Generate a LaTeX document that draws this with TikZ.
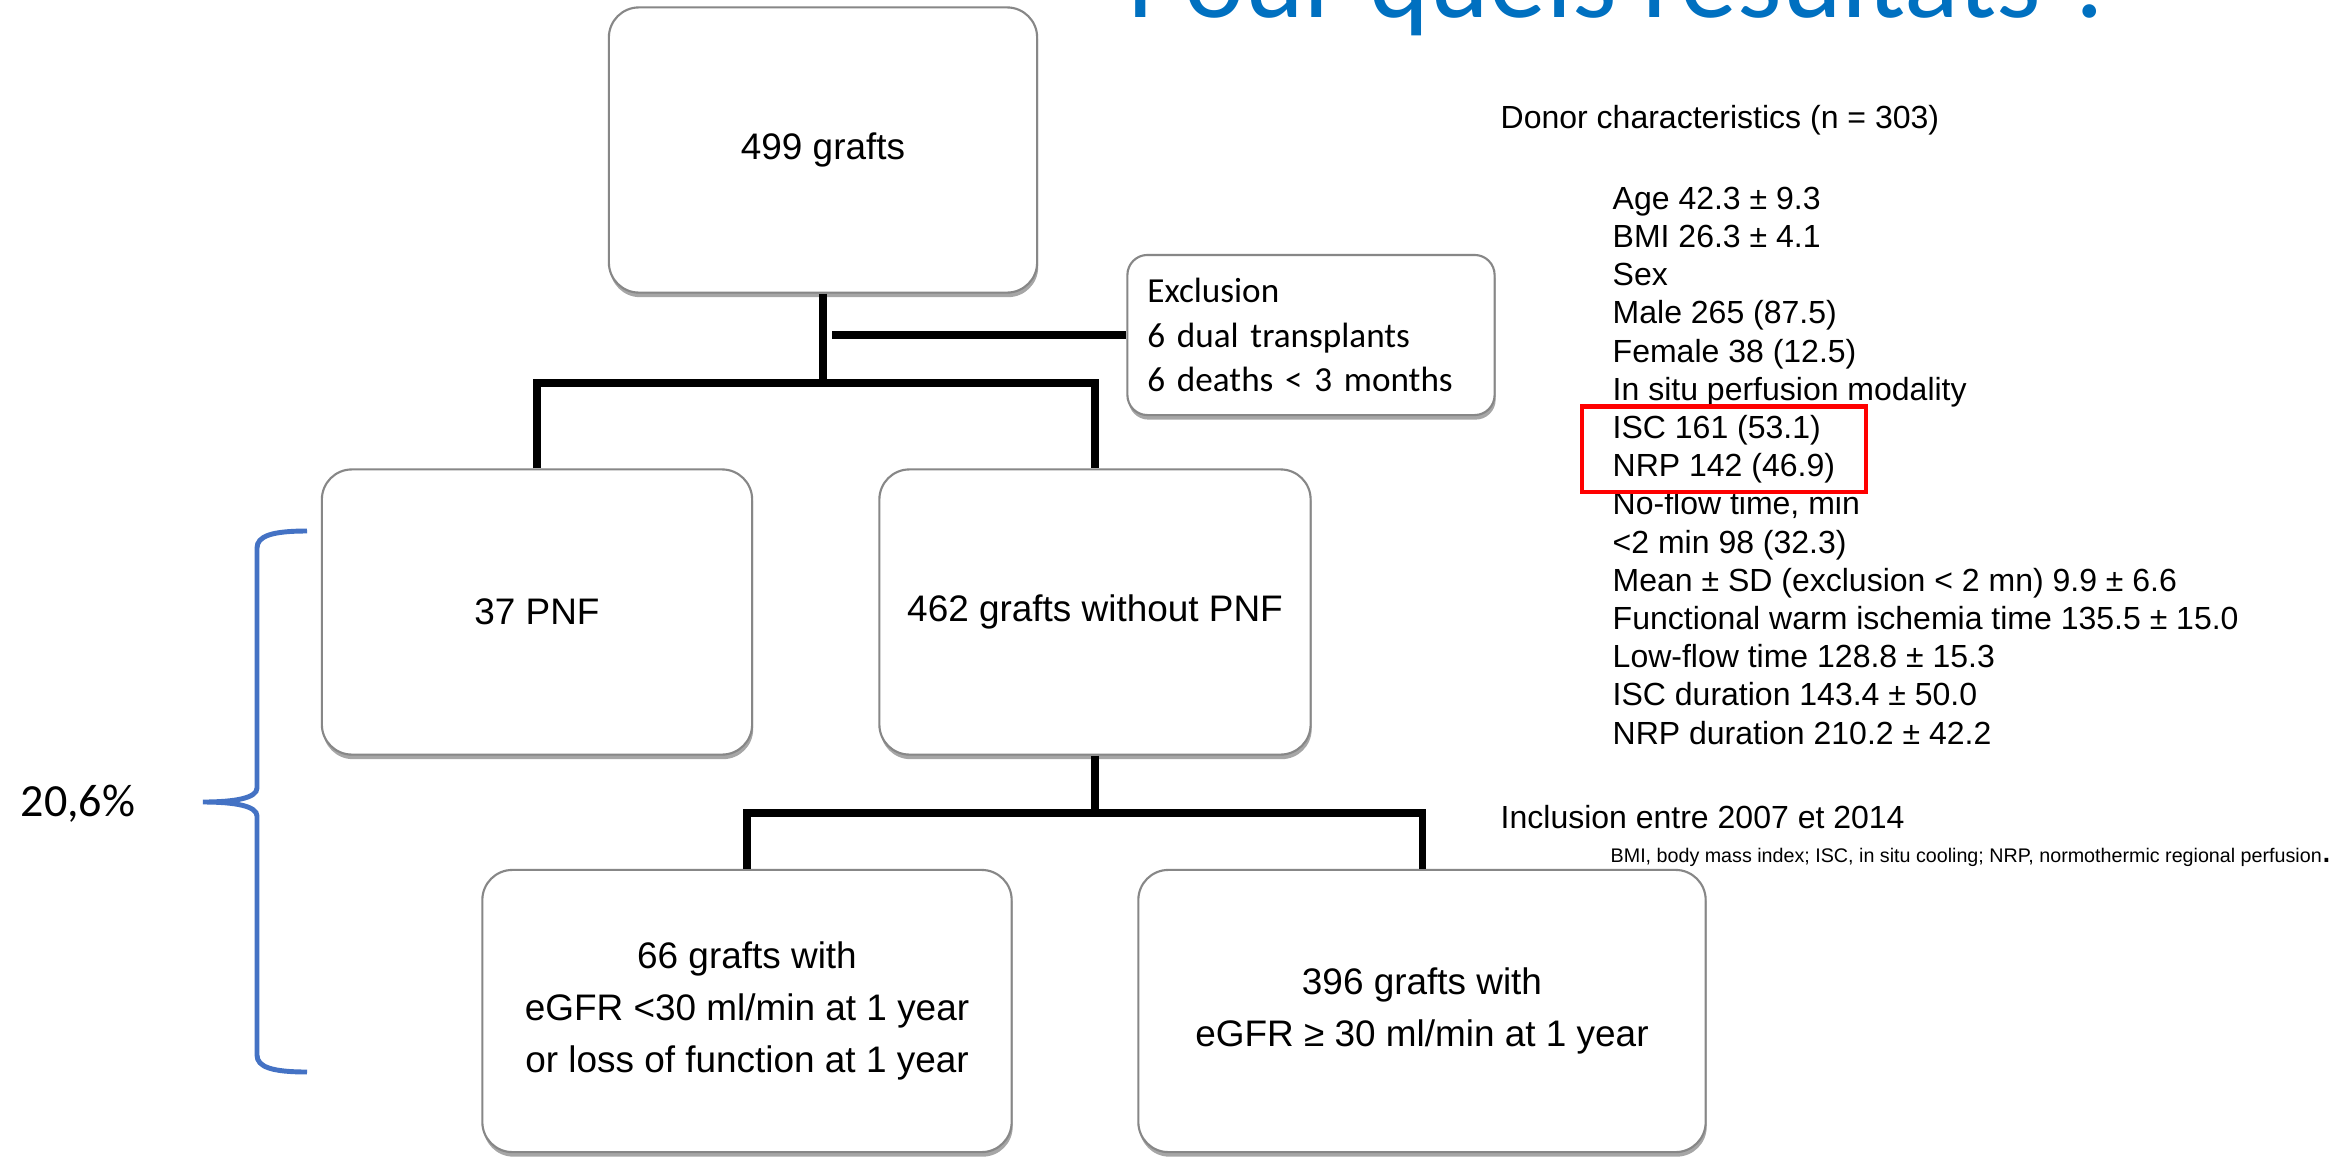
\documentclass[tikz,border=0pt]{standalone}
\usepackage{fontspec}
\setmainfont{Liberation Sans}
\newfontfamily\calibri{Carlito}
\usetikzlibrary{positioning, shadows, fit}

\definecolor{titleblue}{RGB}{0,112,192}
\definecolor{braceblue}{RGB}{68,114,196}
\definecolor{boxgray}{RGB}{135,135,135}

\begin{document}
\begin{tikzpicture}[
            x = 0.01cm, y = -0.01cm, % one unit = one pixel of the slide
            font = \fontsize{10.5}{12.5}\selectfont, % box text
            line cap = butt
        ]

        \tikzstyle{flowbox}=[
            draw = boxgray,
            line width = 0.6pt,
            fill = white,
            rounded corners = 0.3cm,
            align = center,
            minimum height = 2.85cm,
            drop shadow = {shadow xshift=0.3pt, shadow yshift=-1.3pt, fill=black, opacity=0.35}
        ]
        \tikzstyle{link}=[line width = 2pt]
        \tikzstyle{listline}=[
            anchor = base west,
            inner sep = 0pt,
            font = \fontsize{9.1}{11}\selectfont
        ]

        \useasboundingbox[fill=white] (0,0) rectangle (2351,1157);

        % slide title, cut by the top edge
        \node[anchor=base west, inner sep=0pt, text=titleblue,
              font=\calibri\fontsize{32.4}{38}\selectfont] (title) at (1127,17) {Pour quels résultats ?};

        % flow chart
        \node[flowbox, minimum width=4.28cm] (grafts) at (823,150) {499 grafts};
        \node[flowbox, minimum height=1.6cm, rounded corners=0.2cm, align=left,
              text width=3.27cm, inner xsep=0.2cm,
              font=\calibri\fontsize{10}{12.7}\selectfont] (excl) at (1311,335)
              {Exclusion\\6 dual transplants\\6 deaths < 3 months};
        \node[flowbox, minimum width=4.3cm] (pnf) at (537,612) {37 PNF};
        \node[flowbox, minimum width=4.31cm] (nopnf) at (1095,612) {462 grafts without PNF};
        \node[flowbox, minimum width=5.29cm, minimum height=2.82cm,
              font=\fontsize{10.5}{14.8}\selectfont] (low) at (747,1011)
              {66 grafts with\\eGFR <30 ml/min at 1 year\\or loss of function at 1 year};
        \node[flowbox, minimum width=5.67cm, minimum height=2.82cm,
              font=\fontsize{10.5}{14.8}\selectfont] (high) at (1422,1011)
              {396 grafts with\\eGFR ≥ 30 ml/min at 1 year};

        \coordinate (split1) at (823,383);
        \coordinate (split2) at (1095,813);

        \draw[link] (grafts.south) -- (split1);
        \draw[link, shorten <=0.09cm] (grafts.south |- excl.west) -- (excl.west);
        \draw[link] (pnf.north) |- (split1) -| (nopnf.north);
        \draw[link] (nopnf.south) -- (split2);
        \draw[link] (low.north) |- (split2) -| (high.north);

        % brace on the left
        \draw[braceblue, line width=1.4pt] (307,531) .. controls (272,531) and (257,536) .. (257,548)
            -- (257,788) .. controls (257,798) and (235,802) .. (203,802)
            .. controls (235,802) and (257,806) .. (257,816)
            -- (257,1055) .. controls (257,1067) and (272,1072) .. (307,1072);
        \node[inner sep=0pt, font=\calibri\fontsize{13.1}{15}\selectfont] (pct) at (78,804) {20,6\%};

        % donor table
        \node[listline] (donor) at (1500,128) {Donor characteristics (n = 303)};
        \foreach \txt [count=\i] in {Age 42.3 ± 9.3, BMI 26.3 ± 4.1, Sex, Male 265 (87.5),
                Female 38 (12.5), In situ perfusion modality, ISC 161 (53.1), NRP 142 (46.9),
                {No-flow time, min}, <2 min 98 (32.3), Mean ± SD (exclusion < 2 mn) 9.9 ± 6.6,
                Functional warm ischemia time 135.5 ± 15.0, Low-flow time 128.8 ± 15.3,
                ISC duration 143.4 ± 50.0, NRP duration 210.2 ± 42.2}
            \node[listline] (row\i) at (1612,{171+38.2*\i}) {\txt};

        \node[draw=red, line width=1.2pt, inner xsep=0.3cm, inner ysep=0.08cm,
              fit=(row7)(row8)] (highlight) {};

        \node[listline] (incl) at (1500,828) {Inclusion entre 2007 et 2014};
        \node[anchor=base west, inner sep=0pt, font=\fontsize{5.6}{6.5}\selectfont] (abbrev) at (1610,862)
            {BMI, body mass index; ISC, in situ cooling; NRP, normothermic regional perfusion{\fontsize{11}{12}\selectfont.}};

    \end{tikzpicture}
\end{document}
